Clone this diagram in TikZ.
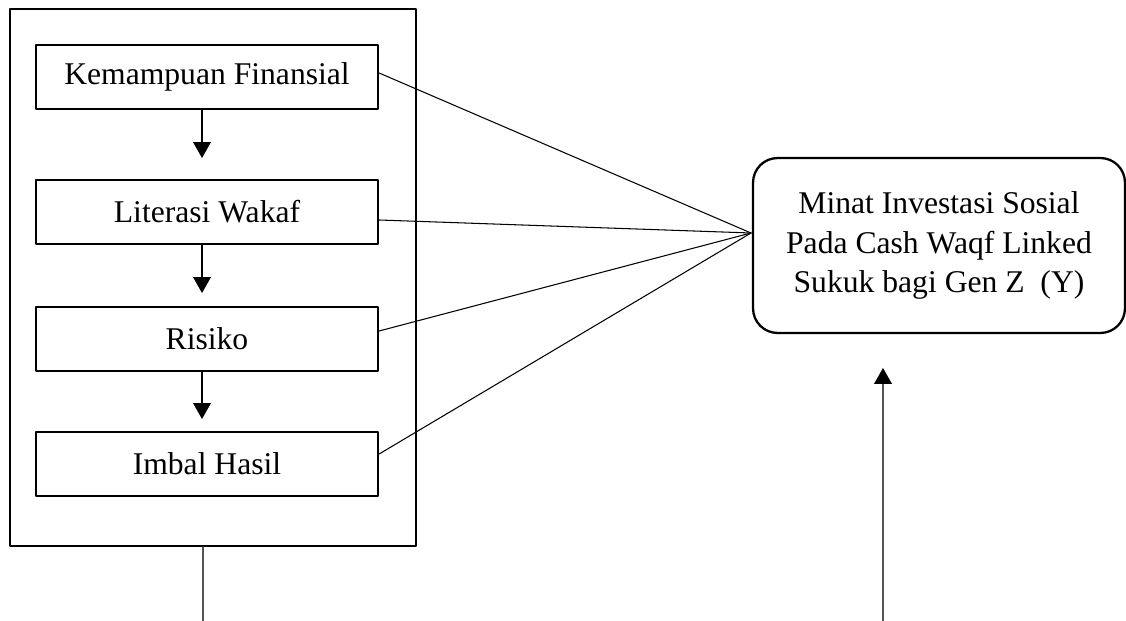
\documentclass[tikz,border=0pt]{standalone}
\usepackage{fontspec}
\setmainfont{Liberation Serif}
\usetikzlibrary{arrows.meta}
\definecolor{ggline}{rgb}{0.33,0.33,0.33}

\begin{document}
\begin{tikzpicture}[line cap=round,line join=round,>={Triangle[width=10pt,length=9pt,color=black]},x=0.02cm,y=-0.02cm,
	varbox/.style={draw,line width=1.3pt,minimum width=6.84cm,minimum height=1.28cm,inner sep=0pt,font=\fontsize{18}{22}\selectfont},
	ybox/.style={draw,line width=1.3pt,rounded corners=14pt,minimum width=7.44cm,minimum height=3.5cm,align=center,font=\fontsize{18}{22.7}\selectfont},
	link/.style={line width=0.6pt}]
	\useasboundingbox (0,0) rectangle (1126,621);
	\node[draw,line width=1.3pt,minimum width=8.12cm,minimum height=10.74cm,inner sep=0pt] (outer) at (213,277.5) {};
	\node[varbox] (kf) at (207,77) {Kemampuan Finansial};
	\node[varbox] (lw) at (207,212) {Literasi Wakaf};
	\node[varbox] (ri) at (207,339) {Risiko};
	\node[varbox] (ih) at (207,464) {Imbal Hasil};
	\node[ybox] (y) at (939,245.5) {Minat Investasi Sosial\\Pada Cash Waqf Linked\\Sukuk bagi Gen Z\ \ (Y)};
	\coordinate (hub) at (751,233);
	\coordinate (base) at (203,621);
	\coordinate (foot) at (883,621);
	\coordinate (tip) at (883,368);
		\draw[->,line width=0.75pt] (kf.south -| 202,0) -- (202,158);
		\draw[->,line width=0.75pt] (lw.south -| 202,0) -- (202,293);
		\draw[->,line width=0.75pt] (ri.south -| 202,0) -- (202,419);
	\draw[link] ([yshift=0.08cm]kf.east) -- (hub);
	\draw[link] ([yshift=-0.16cm]lw.east) -- (hub);
	\draw[link] ([yshift=0.16cm]ri.east) -- (hub);
	\draw[link] ([yshift=0.2cm]ih.east) -- (hub);
	\draw[color=ggline,line width=0.8pt] (base) -- (base |- outer.south);
	\draw[->,color=ggline,line width=0.8pt] (foot) -- (tip);
\end{tikzpicture}
\end{document}
